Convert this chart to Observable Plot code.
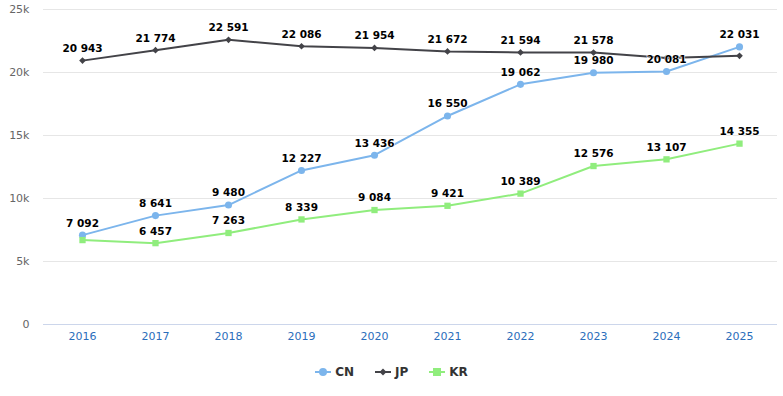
<!DOCTYPE html>
<html><head><meta charset="utf-8">
<script src="https://cdn.jsdelivr.net/npm/d3@7"></script>
<script src="https://cdn.jsdelivr.net/npm/@observablehq/plot@0.6"></script>
<style>
body{margin:0;background:#fff;font-family:"DejaVu Sans",sans-serif}
#legend{display:flex;justify-content:center;align-items:center;gap:21px;margin-top:14px;height:16px;font-size:12px;font-weight:bold;color:#333}
.item{display:flex;align-items:center;gap:4px}
</style>
</head><body><div id="chart"></div><div id="legend"></div>
<script>
const years = ["2016","2017","2018","2019","2020","2021","2022","2023","2024","2025"];
const cn = [7092, 8641, 9480, 12227, 13436, 16550, 19062, 19980, 20081, 22031];
const jp = [20943, 21774, 22591, 22086, 21954, 21672, 21594, 21578, 21150, 21320];
const kr = [6700, 6457, 7263, 8339, 9084, 9421, 10389, 12576, 13107, 14355];
const seriesNames = ["CN", "JP", "KR"];
const seriesColors = ["#7cb5ec", "#434348", "#90ed7d"];
const seriesSymbols = ["circle", "diamond2", "square"];
const hiddenLabels = ["KR-2016", "JP-2024", "JP-2025"];
const yTicks = [0, 5000, 10000, 15000, 20000, 25000];

const values = [cn, jp, kr];
const rows = [];
seriesNames.forEach((s, i) => years.forEach((y, j) => rows.push({series: s, year: y, value: values[i][j]})));
const fmt = v => d3.format(",")(v).replace(/,/g, " ");
const labelRows = rows.filter(d => !hiddenLabels.includes(d.series + "-" + d.year));

const plot = Plot.plot({
  width: 783, height: 350,
  marginTop: 9, marginBottom: 26, marginLeft: 43, marginRight: 6,
  style: {fontSize: "11px", fontFamily: "DejaVu Sans, sans-serif", background: "#fff"},
  x: {type: "point", domain: years, padding: 0.5, label: null},
  y: {domain: [0, 25000], label: null},
  color: {domain: seriesNames, range: seriesColors},
  symbol: {domain: seriesNames, range: seriesSymbols},
  marks: [
    Plot.gridY(yTicks, {stroke: "#e6e6e6", strokeOpacity: 1}),
    Plot.ruleY([0], {stroke: "#ccd6eb"}),
    Plot.axisY({ticks: yTicks, tickSize: 0, tickPadding: 14, fill: "#666", tickFormat: d => d === 0 ? "0" : d / 1000 + "k", label: null}),
    Plot.axisX({tickSize: 0, tickPadding: 8, fill: "#2a6ebb", label: null}),
    Plot.line(rows, {x: "year", y: "value", z: "series", stroke: "series", strokeWidth: 2}),
    Plot.dot(rows, {x: "year", y: "value", fill: "series", symbol: "series", r: d => d.series === "JP" ? 3.2 : (d.series === "KR" ? 4.5 : 4.5)}),
    Plot.text(labelRows, {x: "year", y: "value", text: d => fmt(d.value), dy: -12, fill: "#000", fontSize: 10.5, fontWeight: "bold", stroke: "white", strokeWidth: 1.2, paintOrder: "stroke"})
  ]
});
document.getElementById("chart").appendChild(plot);

const legend = document.getElementById("legend");
seriesNames.forEach((s, i) => {
  const item = document.createElement("div");
  item.className = "item";
  const sym = seriesSymbols[i];
  let marker;
  if (sym === "circle") marker = `<circle cx="8" cy="6" r="4" fill="${seriesColors[i]}"/>`;
  else if (sym === "diamond2") marker = `<path d="M8,2.5L11.5,6L8,9.5L4.5,6Z" fill="${seriesColors[i]}"/>`;
  else marker = `<rect x="4" y="2" width="8" height="8" fill="${seriesColors[i]}"/>`;
  item.innerHTML = `<svg width="16" height="12"><line x1="0" x2="16" y1="6" y2="6" stroke="${seriesColors[i]}" stroke-width="2"/>${marker}</svg><span>${s}</span>`;
  legend.appendChild(item);
});
</script>
</body></html>
